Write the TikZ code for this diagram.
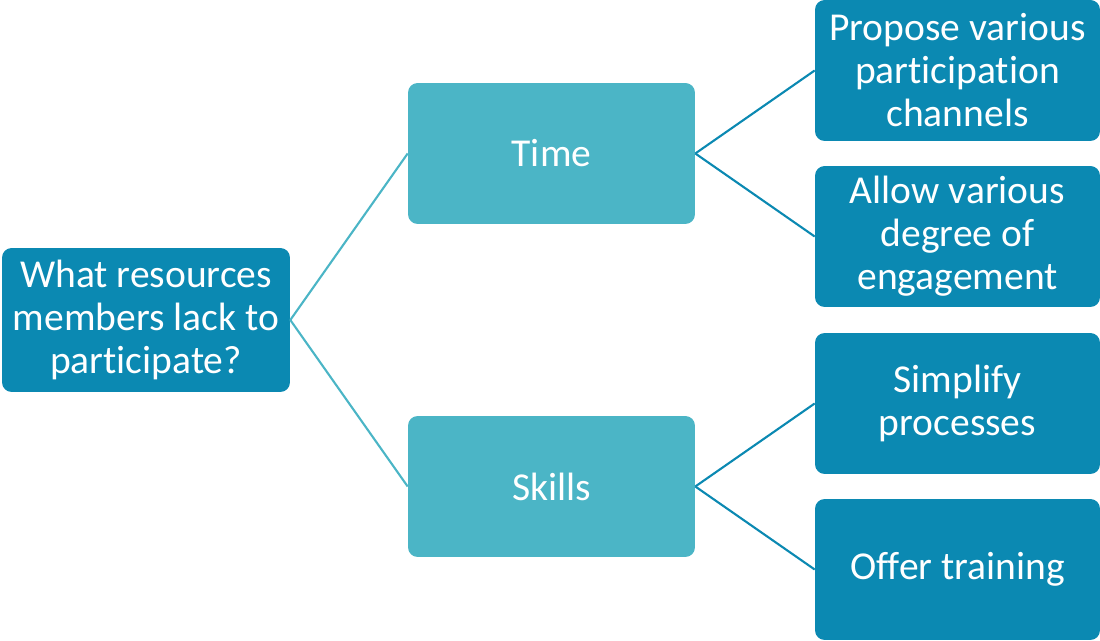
\documentclass[tikz,border=0pt]{standalone}
\usepackage{fontspec}
\setmainfont{Carlito}[RawFeature={-liga;-clig;-calt;-dlig}]
\definecolor{deep}{HTML}{0B89B2}
\definecolor{light}{HTML}{4BB5C6}

\begin{document}
\begin{tikzpicture}[x=0.02cm,y=-0.02cm,box/.style={rounded corners=5.5pt,text=white,align=center,inner sep=0pt,font=\fontsize{22.5}{24.5}\selectfont},root/.style={box,fill=deep,minimum width=5.76cm,minimum height=2.88cm},mid/.style={box,fill=light,minimum width=5.74cm,minimum height=2.82cm},leaf/.style={box,fill=deep,minimum width=5.7cm,minimum height=2.82cm},link/.style={line width=1.2pt}]
 \useasboundingbox (0,0) rectangle (1100,641);
 \node[root] (q) at (146,320) {What resources\\members lack to\\participate?};
 \node[mid] (time) at (551.5,153.5) {Time};
 \node[mid] (skills) at (551.5,486.5) {Skills};
 \node[leaf] (propose) at (957.5,70.5) {Propose various\\participation\\channels};
 \node[leaf] (allow) at (957.5,236.5) {Allow various\\degree of\\engagement};
 \node[leaf] (simplify) at (957.5,403.5) {Simplify\\processes};
 \node[leaf] (offer) at (957.5,569.5) {Offer training};
 \draw[link,light] (q.east)--(time.west);
 \draw[link,light] (q.east)--(skills.west);
 \draw[link,deep] (time.east)--(propose.west);
 \draw[link,deep] (time.east)--(allow.west);
 \draw[link,deep] (skills.east)--(simplify.west);
 \draw[link,deep] (skills.east)--(offer.west);
\end{tikzpicture}
\end{document}
